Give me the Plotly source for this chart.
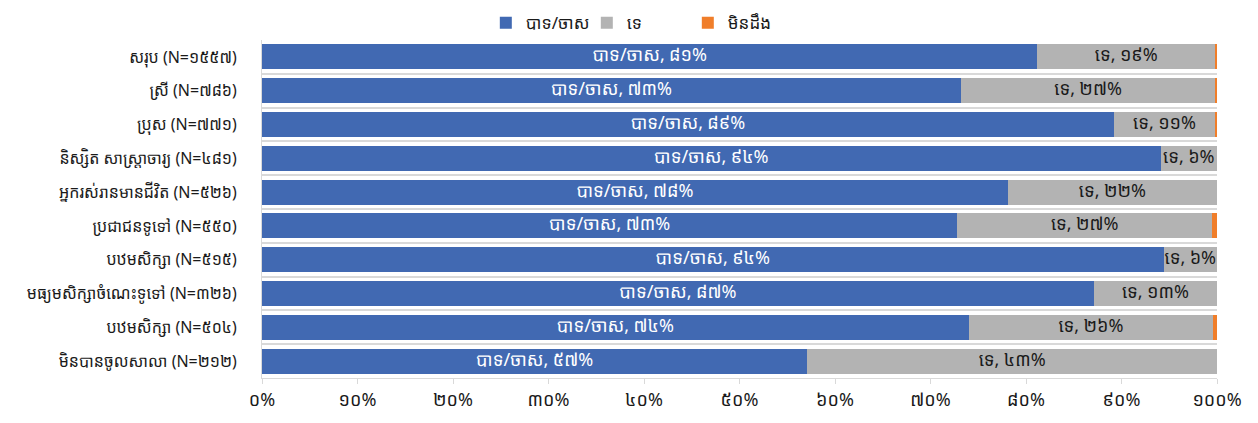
import plotly.graph_objects as go

categories = [
    "សរុប (N=១៥៥៧)",
    "ស្រី (N=៧៨៦)",
    "ប្រុស (N=៧៧១)",
    "និស្សិត សាស្ត្រាចារ្យ (N=៤៨១)",
    "អ្នករស់រានមានជីវិត (N=៥២៦)",
    "ប្រជាជនទូទៅ (N=៥៥០)",
    "បឋមសិក្សា (N=៥១៥)",
    "មធ្យមសិក្សាចំណេះទូទៅ (N=៣២៦)",
    "បឋមសិក្សា (N=៥០៤)",
    "មិនបានចូលសាលា (N=២១២)",
]
series_names = ["បាទ/ចាស", "ទេ", "មិនដឹង"]
yes_vals = [81.2, 73.2, 89.2, 94.1, 78.1, 72.8, 94.4, 87.1, 74.0, 57.1]
no_vals = [18.6, 26.6, 10.6, 5.9, 21.9, 26.7, 5.6, 12.9, 25.6, 42.9]
dk_vals = [0.2, 0.2, 0.2, 0.0, 0.0, 0.5, 0.0, 0.0, 0.4, 0.0]
x_ticks = [0, 10, 20, 30, 40, 50, 60, 70, 80, 90, 100]

KH = "០១២៣៤៥៦៧៨៩"
def kh(n):
    return "".join(KH[int(c)] for c in str(n))

FONT = "Noto Sans Khmer, Khmer OS, Khmer OS System, Noto Sans, sans-serif"
colors = ["#4169B2", "#B3B3B3", "#F07E2A"]

fig = go.Figure()
for name, vals, col in zip(series_names, [yes_vals, no_vals, dk_vals], colors):
    fig.add_trace(go.Bar(
        y=categories, x=vals, orientation="h", name=name,
        marker=dict(color=col, line=dict(width=0)),
        hoverinfo="skip",
    ))

# data labels, centered in each segment (positions derived from the data)
yes_mid = [v / 2 for v in yes_vals]
no_mid = [y + n / 2 for y, n in zip(yes_vals, no_vals)]
fig.add_trace(go.Scatter(
    x=yes_mid, y=categories, mode="text", showlegend=False, hoverinfo="skip",
    text=[f"{series_names[0]}, {kh(int(v + 0.5))}%" for v in yes_vals],
    textposition="middle center",
    textfont=dict(color="white", size=18, family=FONT),
    cliponaxis=False,
))
fig.add_trace(go.Scatter(
    x=no_mid, y=categories, mode="text", showlegend=False, hoverinfo="skip",
    text=[f"{series_names[1]}, {kh(int(v + 0.5))}%" for v in no_vals],
    textposition="middle center",
    textfont=dict(color="#1a1a1a", size=18, family=FONT),
    cliponaxis=False,
))

fig.update_layout(
    barmode="stack",
    bargap=0.26,
    width=1250, height=415,
    margin=dict(l=254, r=41, t=32, b=45, autoexpand=False),
    paper_bgcolor="white", plot_bgcolor="white",
    font=dict(family=FONT, size=16, color="#1a1a1a"),
    legend=dict(orientation="h", x=0.393, xanchor="center", y=1.05, yanchor="middle",
                font=dict(size=17), traceorder="normal", borderwidth=0,
                entrywidth=56, itemsizing="constant"),
    showlegend=True,
)
fig.update_xaxes(
    range=[0, 100], tickvals=x_ticks, ticktext=[f"{kh(t)}%" for t in x_ticks],
    showgrid=False, zeroline=False, showline=True, linecolor="#d9d9d9", linewidth=1,
    ticks="outside", ticklen=5, tickcolor="#d9d9d9",
    tickfont=dict(size=18, color="#1a1a1a"), fixedrange=True,
)
fig.update_yaxes(
    type="category", autorange="reversed", tickson="boundaries",
    showgrid=True, gridcolor="#d9d9d9", gridwidth=1.5,
    showline=True, linecolor="#d9d9d9", linewidth=1, ticks="", ticklabelstandoff=21,
    tickfont=dict(size=16, color="#1a1a1a"),
)
fig.write_html("out.html", config={"displayModeBar": False})
